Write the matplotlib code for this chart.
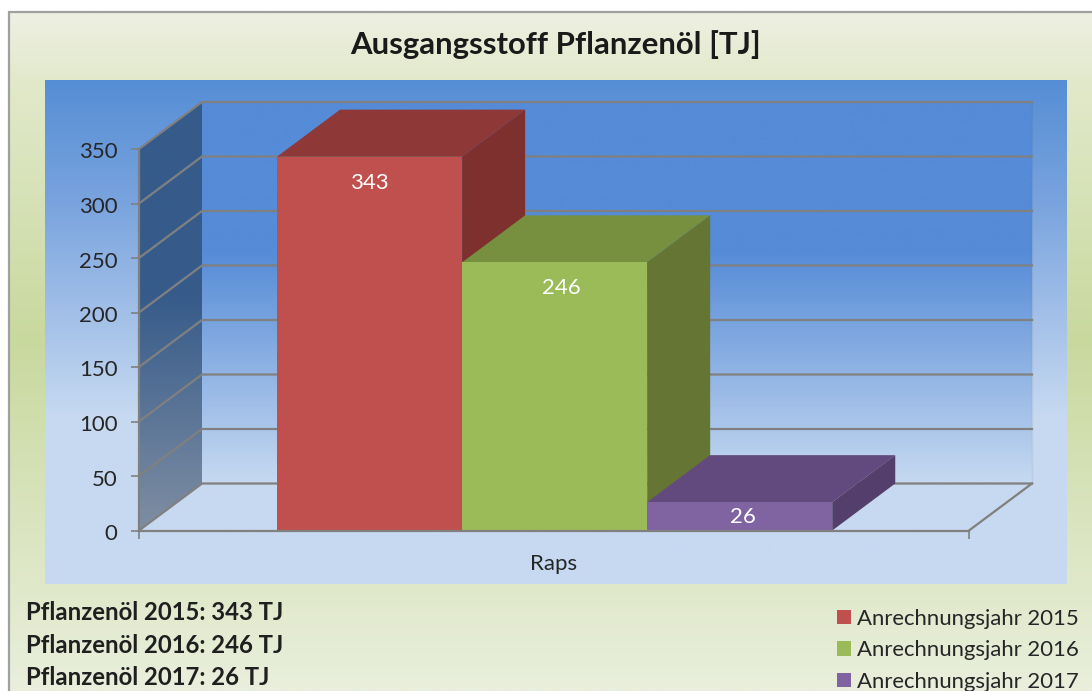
import matplotlib.pyplot as plt
import matplotlib as mpl
import numpy as np
from matplotlib.colors import LinearSegmentedColormap
from matplotlib.patches import Polygon, Patch, Rectangle
from matplotlib.transforms import ScaledTranslation

plt.rcParams['font.family'] = ['Lato', 'DejaVu Sans']

# data
years = ['2015', '2016', '2017']
values = [343, 246, 26]
category = 'Raps'
y_ticks = [0, 50, 100, 150, 200, 250, 300, 350]
title = 'Ausgangsstoff Pflanzenöl [TJ]'
legend_labels = ['Anrechnungsjahr ' + y for y in years]
notes = ['Pflanzenöl %s: %d TJ' % (y, v) for y, v in zip(years, values)]

front = ['#C0504D', '#9BBB59', '#8064A2']
top = ['#8E3937', '#76903F', '#624A7E']
side = ['#7D302E', '#647534', '#543E6B']
label_shift = [0, 7, 3]  # px, the labels are not quite centred in the original
txt = '#262626'
grid = '#808080'

W, H = 1092, 691
fig = plt.figure(figsize=(W/100, H/100), dpi=100, facecolor='white')


def vgrad(axis, stops, x0, x1, y0, y1, **kw):
    # vertical gradient, stops are (pixel y, colour)
    pos = [(s[0]-y0)/(y1-y0) for s in stops]
    cm = LinearSegmentedColormap.from_list('g', list(zip(pos, [s[1] for s in stops])))
    g = np.linspace(0, 1, 512).reshape(-1, 1)
    return axis.imshow(g, cmap=cm, vmin=0, vmax=1, extent=(x0, x1, y1, y0),
                       aspect='auto', interpolation='bilinear', **kw)


# background in pixel coordinates
bg = fig.add_axes([0, 0, 1, 1])
bg.set_axis_off()
vgrad(bg, [(12, '#EEF0E2'), (80, '#E2E9CB'), (340, '#C8D99E'), (584, '#E0E8CA'), (691, '#E9EFDC')],
      9, W, 12, H)
bg.plot([9, 9, W], [H, 12, 12], color='#A0A0A0', lw=1.6, solid_joinstyle='miter')
vgrad(bg, [(80, '#558ED5'), (200, '#79A3DE'), (415, '#C6D9F1'), (584, '#C6D9F1')],
      45, 1067, 80, 584)
bg.set_xlim(0, W)
bg.set_ylim(H, 0)

# front plane of the 3d box
x0_px, x1_px, y0_px, y1_px = 139, 969, 530.5, 149
ax = fig.add_axes([x0_px/W, 1-y0_px/H, (x1_px-x0_px)/W, (y0_px-y1_px)/H])
ax.patch.set_alpha(0)
ax.set_xlim(0, 1)
ax.set_ylim(0, 350)
dx = 63/(x1_px-x0_px)
dy = 47/(y0_px-y1_px)*350

# back wall, side wall
g = np.linspace(0, 1, 512).reshape(-1, 1)
cm = LinearSegmentedColormap.from_list('w', [(0, '#558BD7'), (150/383, '#558BD7'), (1, '#C6D9F1')])
ax.imshow(g, cmap=cm, extent=(dx, 1+dx, dy, 350+dy), aspect='auto', clip_on=False, zorder=1)
cm = LinearSegmentedColormap.from_list('s', [(0, '#365B8A'), (0.45, '#365B8A'), (1, '#7F8EA3')])
im = ax.imshow(g, cmap=cm, extent=(0, dx, 0, 350+dy), aspect='auto', zorder=1)
im.set_clip_path(Polygon([(0, 0), (dx, dy), (dx, 350+dy), (0, 350)], transform=ax.transData))
im.set_clip_box(fig.bbox)
ax.set_xlim(0, 1)
ax.set_ylim(0, 350)
ax.plot([1+dx, 1+dx], [dy, 350+dy], color='black', alpha=0.06, lw=1, clip_on=False, zorder=2)

# grid lines
for v in y_ticks:
    ax.plot([0, dx, 1+dx], [v, v+dy, v+dy], color=grid, lw=1.6, clip_on=False, zorder=2,
            solid_joinstyle='miter')
ax.plot([1, 1+dx], [0, dy], color=grid, lw=1.6, clip_on=False, zorder=2)

# bars
w = 1/(len(values)+1.485)
for i, v in enumerate(values):
    left = 0.746*w + i*w
    z = 3 + i
    ax.bar(left, v, width=w, align='edge', color=front[i], zorder=z+0.2, clip_on=False)
    ax.add_patch(Polygon([(left, v), (left+dx, v+dy), (left+w+dx, v+dy), (left+w, v)],
                         fc=top[i], ec='none', zorder=z, clip_on=False))
    ax.add_patch(Polygon([(left+w, 0), (left+w+dx, dy), (left+w+dx, v+dy), (left+w, v)],
                         fc=side[i], ec='none', zorder=z, clip_on=False))
    off = min(26, (y0_px-y1_px)/350*v/2 + 1)
    ax.annotate(str(v), (left+w/2, v), xytext=(label_shift[i]*0.72, -off*0.72), textcoords='offset points',
                ha='center', va='center', color='white', fontsize=16, zorder=10)

# axes
for s in ['top', 'right']:
    ax.spines[s].set_visible(False)
for s in ['left', 'bottom']:
    ax.spines[s].set_color(grid)
    ax.spines[s].set_linewidth(1.6)
    ax.spines[s].set_zorder(8)
ax.set_yticks(y_ticks)
ax.set_xticks([0, 1])
ax.set_xticklabels([])
ax.set_xticks([0.5], [category], minor=True)
ax.tick_params(axis='y', length=5.5, width=1.2, color=grid, labelsize=16, labelcolor=txt, pad=10)
ax.tick_params(axis='x', which='major', length=5.5, width=1.2, color=grid)
ax.tick_params(axis='x', which='minor', length=0, labelsize=16, labelcolor=txt, pad=17)
for lab in ax.get_yticklabels():
    lab.set_transform(lab.get_transform() + ScaledTranslation(0, -1.5/100, fig.dpi_scale_trans))

# texts
fig.text(556/W, 1-45/H, title, ha='center', va='center', fontsize=22.4, fontweight='bold', color='#1A1A1A')
for n, yy in zip(notes, [613, 645.5, 677.5]):
    fig.text(26/W, 1-yy/H, n, ha='left', va='center', fontsize=17.2, fontweight='bold', color='#1F1F1F')

handles = [Patch(fc=c, ec='none') for c in front]
fig.legend(handles, legend_labels, loc='upper left', bbox_to_anchor=(826/W, 1-597.5/H), frameon=False,
           fontsize=15.9, labelcolor=txt, handlelength=0.63, handleheight=0.63, handletextpad=0.27,
           labelspacing=0.53, borderpad=0, borderaxespad=0.5)

fig.savefig('out.png', dpi=100)
